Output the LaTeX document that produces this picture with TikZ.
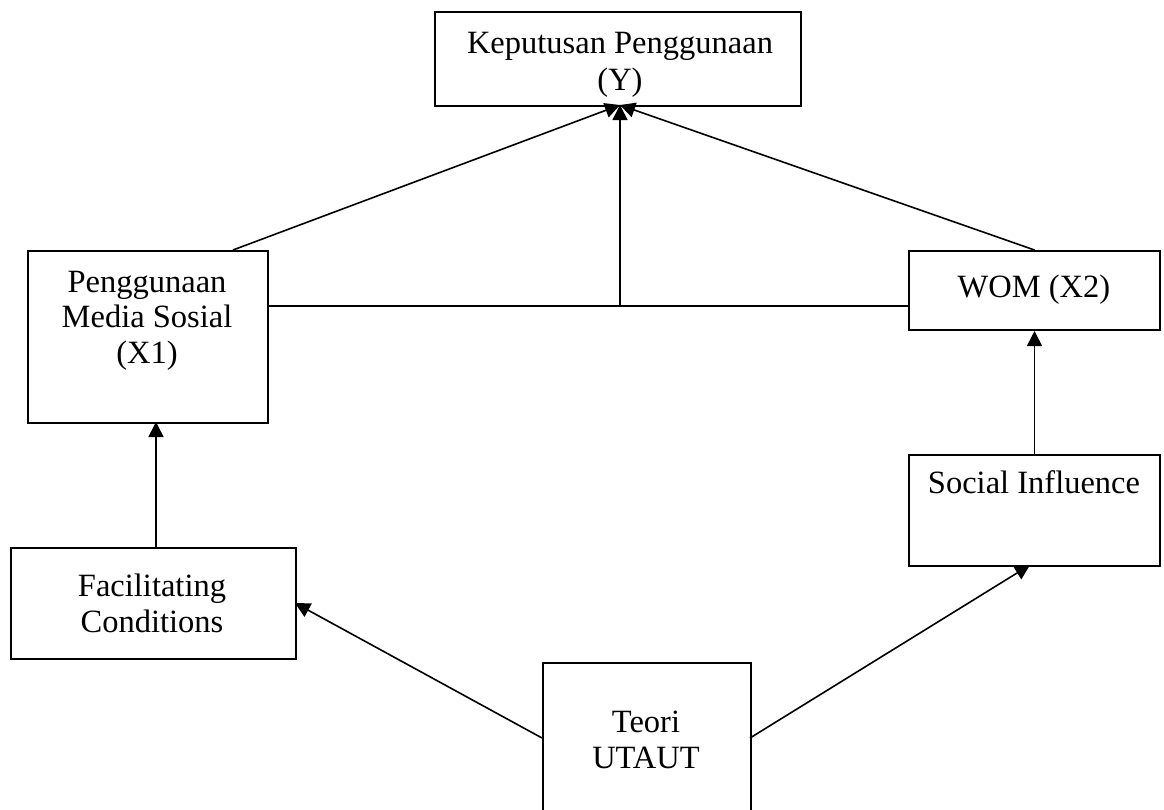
\documentclass[tikz,border=0pt]{standalone}
\usepackage{fontspec}
\setmainfont{Liberation Serif}
\usetikzlibrary{arrows.meta}
\begin{document}
\begin{tikzpicture}[x=1pt,y=-1pt,
  box/.style={draw, line width=2pt, rectangle, inner sep=0pt, anchor=north west},
  lbl/.style={font=\fontsize{32.5}{36}\selectfont, anchor=base, inner sep=0pt},
  conn/.style={line width=1.6pt},
  arr/.style={conn, -{Triangle[length=15pt,width=15pt]}}]
\useasboundingbox (0,0) rectangle (1164,809);
\clip (0,0) rectangle (1164,809);
\fill[white] (0,0) rectangle (1164,809);
% boxes
\node[box, minimum width=366pt, minimum height=94pt] (Y) at (434,11) {};
\node[box, minimum width=240pt, minimum height=172pt] (X1) at (27,250) {};
\node[box, minimum width=251pt, minimum height=79pt] (WOM) at (908,250) {};
\node[box, minimum width=251pt, minimum height=111pt] (SI) at (908,454) {};
\node[box, minimum width=285pt, minimum height=111pt] (FC) at (10,547) {};
\node[box, minimum width=208pt, minimum height=190pt] (T) at (542,662) {};
% labels
\node[lbl] (ya) at (620,53) {Keputusan Penggunaan};
\node[lbl] (yb) at (620,90) {(Y)};
\node[lbl] (xa) at (147,292) {Penggunaan};
\node[lbl] (xb) at (147,327) {Media Sosial};
\node[lbl] (xc) at (147,363) {(X1)};
\node[lbl] (wa) at (1034,297) {WOM (X2)};
\node[lbl] (sa) at (1034,493) {Social Influence};
\node[lbl] (fa) at (152,596) {Facilitating};
\node[lbl] (fb) at (152,632) {Conditions};
\node[lbl] (ta) at (646,732) {Teori};
\node[lbl] (tb) at (646,768) {UTAUT};
% connector points
\coordinate (yin) at (620,105);
\coordinate (x1top) at (233,250);
\coordinate (x1r) at (267,306);
\coordinate (womL) at (908,306);
\coordinate (jn) at (620,306);
\coordinate (x1bot) at (156,422);
\coordinate (fctop) at (156,547);
\coordinate (fcr) at (295,603);
\coordinate (tl) at (542,738);
\coordinate (tr) at (750,738);
\coordinate (sib) at (1030,565);
% connectors
\draw[arr] (x1top) -- (yin);
\draw[arr] (WOM.north) -- (yin);
\draw[conn] (x1r) -- (womL);
\draw[arr] (jn) -- (yin);
\draw[arr] (SI.north) -- (WOM.south);
\draw[arr] (fctop) -- (x1bot);
\draw[arr] (tl) -- (fcr);
\draw[arr] (tr) -- (sib);
\end{tikzpicture}
\end{document}
